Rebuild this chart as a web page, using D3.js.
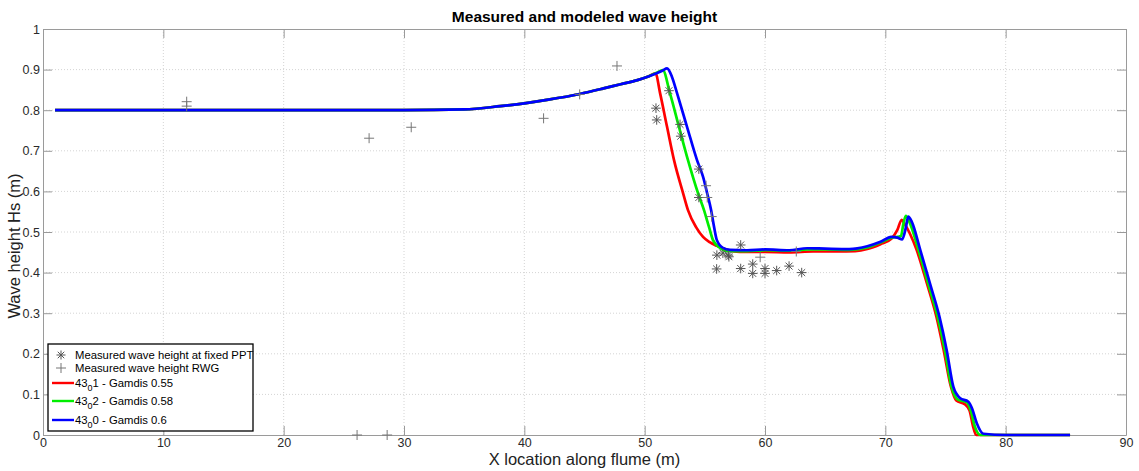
<!DOCTYPE html>
<html>
<head>
<meta charset="utf-8">
<script src="https://cdn.jsdelivr.net/npm/d3@7"></script>
<style>
  body { margin: 0; background: #fff; }
  svg { display: block; }
  text { font-family: "Liberation Sans", Arial, sans-serif; }
</style>
</head>
<body>
<svg id="chart" width="1139" height="471"></svg>
<script>
// Axis ticks
const xTicks = [0, 10, 20, 30, 40, 50, 60, 70, 80, 90];
const yTicks = [0, 0.1, 0.2, 0.3, 0.4, 0.5, 0.6, 0.7, 0.8, 0.9, 1];
const yTickLabels = ["0", "0.1", "0.2", "0.3", "0.4", "0.5", "0.6", "0.7", "0.8", "0.9", "1"];

// Modeled wave height, run 43_0 1 (Gamdis 0.55) : [x (m), Hs (m)]
const run1 = [
  [1, 0.8], [10, 0.8], [20, 0.8], [30, 0.8], [35, 0.802], [38, 0.81], [40, 0.817], [42, 0.826],
  [44.6, 0.84], [46.5, 0.853], [48, 0.864], [49.4, 0.874], [50.3, 0.883], [50.9, 0.891],
  [51.28, 0.842], [51.86, 0.759], [52.44, 0.677], [53.19, 0.596], [53.6, 0.554], [54.27, 0.512],
  [54.85, 0.488], [55.4, 0.475], [56.0, 0.466], [56.84, 0.456], [57.9, 0.451], [60, 0.451],
  [62, 0.45], [64, 0.452], [66, 0.452], [67.5, 0.453], [68.5, 0.458], [69.6, 0.47], [70.5, 0.483],
  [71.0, 0.505], [71.36, 0.53], [71.6, 0.52], [72.6, 0.456], [73.45, 0.374], [74.25, 0.291],
  [74.85, 0.209], [75.45, 0.119], [75.9, 0.085], [76.6, 0.076], [77.0, 0.06], [77.3, 0.02],
  [77.55, 0], [80, 0], [85.35, 0]
];

// Modeled wave height, run 43_0 2 (Gamdis 0.58)
const run2 = [
  [1, 0.8], [10, 0.8], [20, 0.8], [30, 0.8], [35, 0.802], [38, 0.81], [40, 0.817], [42, 0.826],
  [44.6, 0.84], [46.5, 0.853], [48, 0.864], [49.4, 0.874], [50.3, 0.883], [51.0, 0.892],
  [51.5, 0.899], [52.1, 0.842], [52.85, 0.759], [53.6, 0.677], [54.43, 0.596], [54.93, 0.554],
  [55.35, 0.512], [55.68, 0.48], [56.26, 0.461], [56.9, 0.453], [58.5, 0.453], [60, 0.455],
  [62, 0.454], [63.5, 0.457], [65, 0.457], [67, 0.456], [68.5, 0.462], [69.6, 0.474], [70.5, 0.486],
  [71.0, 0.488], [71.3, 0.49], [71.5, 0.52], [71.7, 0.54], [72.0, 0.525], [72.75, 0.456],
  [73.55, 0.374], [74.35, 0.291], [74.95, 0.209], [75.5, 0.119], [76.0, 0.088], [76.8, 0.08],
  [77.1, 0.06], [77.45, 0.02], [77.9, 0], [80, 0], [85.35, 0]
];

// Modeled wave height, run 43_0 0 (Gamdis 0.6)
const run0 = [
  [1, 0.8], [10, 0.8], [20, 0.8], [30, 0.8], [35, 0.802], [38, 0.81], [40, 0.817], [42, 0.826],
  [44.6, 0.84], [46.5, 0.853], [48, 0.864], [49.4, 0.874], [50.3, 0.883], [51.0, 0.891],
  [51.5, 0.898], [51.86, 0.903], [52.27, 0.882], [52.69, 0.842], [53.52, 0.759], [54.35, 0.677],
  [54.86, 0.635], [55.19, 0.596], [55.52, 0.554], [55.77, 0.512], [56.0, 0.48], [56.5, 0.461],
  [57.1, 0.456], [58.5, 0.455], [60, 0.457], [62, 0.455], [63.5, 0.46], [65, 0.459], [67, 0.458],
  [68.5, 0.465], [69.6, 0.476], [70.5, 0.488], [71.0, 0.486], [71.4, 0.482], [71.7, 0.51],
  [71.9, 0.538], [72.2, 0.525], [72.9, 0.456], [73.7, 0.374], [74.5, 0.291], [75.1, 0.209],
  [75.65, 0.119], [76.2, 0.091], [76.9, 0.082], [77.2, 0.066], [77.6, 0.029], [78.15, 0.003],
  [80, 0], [85.35, 0]
];

// Measured wave height at fixed PPT
const measuredPPT = [
  [50.94, 0.805], [51.0, 0.776], [52.02, 0.848], [52.94, 0.765], [53.0, 0.736], [54.5, 0.655],
  [54.5, 0.585], [56.0, 0.443], [55.98, 0.409], [56.5, 0.448], [56.95, 0.443], [57.0, 0.439],
  [57.98, 0.468], [57.98, 0.41], [58.98, 0.421], [58.98, 0.398], [60.0, 0.41], [60.0, 0.398],
  [60.97, 0.405], [62.0, 0.416], [63.05, 0.40]
];

// Measured wave height RWG
const measuredRWG = [
  [11.94, 0.821], [11.94, 0.81], [26.1, 0], [27.1, 0.731], [28.6, 0], [30.6, 0.758], [41.6, 0.78],
  [44.6, 0.839], [47.7, 0.909], [55.1, 0.614], [55.2, 0.585], [55.57, 0.538], [59.6, 0.438],
  [62.6, 0.452]
];

const seriesNames = ["1 - Gamdis 0.55", "2 - Gamdis 0.58", "0 - Gamdis 0.6"];
const seriesColors = ["#ff0000", "#00ee00", "#0000ff"];

const svg = d3.select("#chart");
const W = 1139, H = 471;
const margin = { left: 43, right: 13, top: 29, bottom: 36 };
const plotW = W - margin.left - margin.right;
const plotH = H - margin.top - margin.bottom;

const x = d3.scaleLinear().domain([0, 90]).range([margin.left, margin.left + plotW]);
const y = d3.scaleLinear().domain([0, 1]).range([margin.top + plotH, margin.top]);

const axisColor = "#9a9a9a";
const labelColor = "#2a2a2a";

// Grid
const grid = svg.append("g");
grid.selectAll(".gx").data(xTicks.slice(1, -1)).join("line")
  .attr("x1", d => x(d)).attr("x2", d => x(d))
  .attr("y1", y(0)).attr("y2", y(1))
  .attr("stroke", "#d4d4d4").attr("stroke-width", 1).attr("stroke-dasharray", "1,2");
grid.selectAll(".gy").data(yTicks.slice(1, -1)).join("line")
  .attr("x1", x(0)).attr("x2", x(90))
  .attr("y1", d => y(d)).attr("y2", d => y(d))
  .attr("stroke", "#d4d4d4").attr("stroke-width", 1).attr("stroke-dasharray", "1,2");

// Axes (ticks drawn inward, box on)
const tickLen = 9;
const xAxisB = d3.axisBottom(x).tickValues(xTicks).tickSizeInner(-tickLen).tickSizeOuter(0).tickPadding(3);
const xAxisT = d3.axisTop(x).tickValues(xTicks).tickSizeInner(-tickLen).tickSizeOuter(0).tickFormat("");
const yAxisL = d3.axisLeft(y).tickValues(yTicks).tickSizeInner(-tickLen).tickSizeOuter(0).tickPadding(3)
  .tickFormat((d, i) => yTickLabels[i]);
const yAxisR = d3.axisRight(y).tickValues(yTicks).tickSizeInner(-tickLen).tickSizeOuter(0).tickFormat("");

function styleAxis(g) {
  g.select(".domain").attr("stroke", axisColor);
  g.selectAll(".tick line").attr("stroke", axisColor);
  g.selectAll(".tick text").attr("fill", labelColor).style("font-size", "12.5px")
    .style("font-family", "'Liberation Sans', Arial, sans-serif");
}
svg.append("g").attr("transform", `translate(0,${y(0)})`).call(xAxisB).call(styleAxis);
svg.append("g").attr("transform", `translate(0,${y(1)})`).call(xAxisT).call(styleAxis);
svg.append("g").attr("transform", `translate(${x(0)},0)`).call(yAxisL).call(styleAxis);
svg.append("g").attr("transform", `translate(${x(90)},0)`).call(yAxisR).call(styleAxis);

// Model lines
const line = d3.line().x(d => x(d[0])).y(d => y(d[1])).curve(d3.curveMonotoneX);
[run1, run2, run0].forEach((s, i) => {
  svg.append("path").datum(s)
    .attr("fill", "none").attr("stroke", seriesColors[i])
    .attr("stroke-width", 2.7).attr("stroke-linejoin", "round")
    .attr("d", line);
});

// Marker shapes
function asterisk(r) {
  const k = r * 0.72;
  return `M${-r},0H${r}M0,${-r}V${r}M${-k},${-k}L${k},${k}M${-k},${k}L${k},${-k}`;
}
function plus(r) {
  return `M${-r},0H${r}M0,${-r}V${r}`;
}
const markerColor = "#555";

svg.append("g").selectAll("path").data(measuredPPT).join("path")
  .attr("transform", d => `translate(${x(d[0])},${y(d[1])})`)
  .attr("d", asterisk(4.8)).attr("stroke", markerColor).attr("stroke-width", 1).attr("fill", "none");

svg.append("g").selectAll("path").data(measuredRWG).join("path")
  .attr("transform", d => `translate(${x(d[0])},${y(d[1])})`)
  .attr("d", plus(5)).attr("stroke", "#777").attr("stroke-width", 1).attr("fill", "none");

// Title and axis labels
svg.append("text").attr("x", x(45)).attr("y", 16).attr("text-anchor", "middle")
  .attr("dominant-baseline", "central").style("font-size", "15.5px").style("font-weight", "bold")
  .attr("fill", "#000").text("Measured and modeled wave height");
svg.append("text").attr("x", x(45)).attr("y", 459).attr("text-anchor", "middle")
  .attr("dominant-baseline", "central").style("font-size", "16.5px").attr("fill", "#222")
  .text("X location along flume (m)");
svg.append("text").attr("transform", `translate(14,${y(0.5) + 14}) rotate(-90)`).attr("text-anchor", "middle")
  .attr("dominant-baseline", "central").style("font-size", "16.5px").attr("fill", "#222")
  .text("Wave height Hs (m)");

// Legend
const lg = svg.append("g");
lg.append("rect").attr("x", 48).attr("y", 344).attr("width", 205).attr("height", 87)
  .attr("fill", "#fff").attr("stroke", "#000").attr("stroke-width", 1.3);
const legendRows = [355, 368, 383, 401, 420];
const legendFont = "11.3px";
lg.append("path").attr("transform", `translate(61,${legendRows[0]})`).attr("d", asterisk(4.5))
  .attr("stroke", markerColor).attr("fill", "none");
lg.append("path").attr("transform", `translate(61,${legendRows[1]})`).attr("d", plus(5))
  .attr("stroke", "#777").attr("fill", "none");
lg.append("text").attr("x", 75).attr("y", legendRows[0]).attr("dominant-baseline", "central")
  .style("font-size", legendFont).attr("fill", "#000").text("Measured wave height at fixed PPT");
lg.append("text").attr("x", 75).attr("y", legendRows[1]).attr("dominant-baseline", "central")
  .style("font-size", legendFont).attr("fill", "#000").text("Measured wave height RWG");
seriesNames.forEach((name, i) => {
  const ry = legendRows[2 + i];
  lg.append("line").attr("x1", 52).attr("x2", 74).attr("y1", ry).attr("y2", ry)
    .attr("stroke", seriesColors[i]).attr("stroke-width", 2.4);
  const t = lg.append("text").attr("x", 75).attr("y", ry).attr("dominant-baseline", "central")
    .style("font-size", legendFont).attr("fill", "#000");
  t.append("tspan").text("43");
  t.append("tspan").attr("dy", 5).style("font-size", "9px").text("0");
  t.append("tspan").attr("dy", -5).text(name);
});
</script>
</body>
</html>
